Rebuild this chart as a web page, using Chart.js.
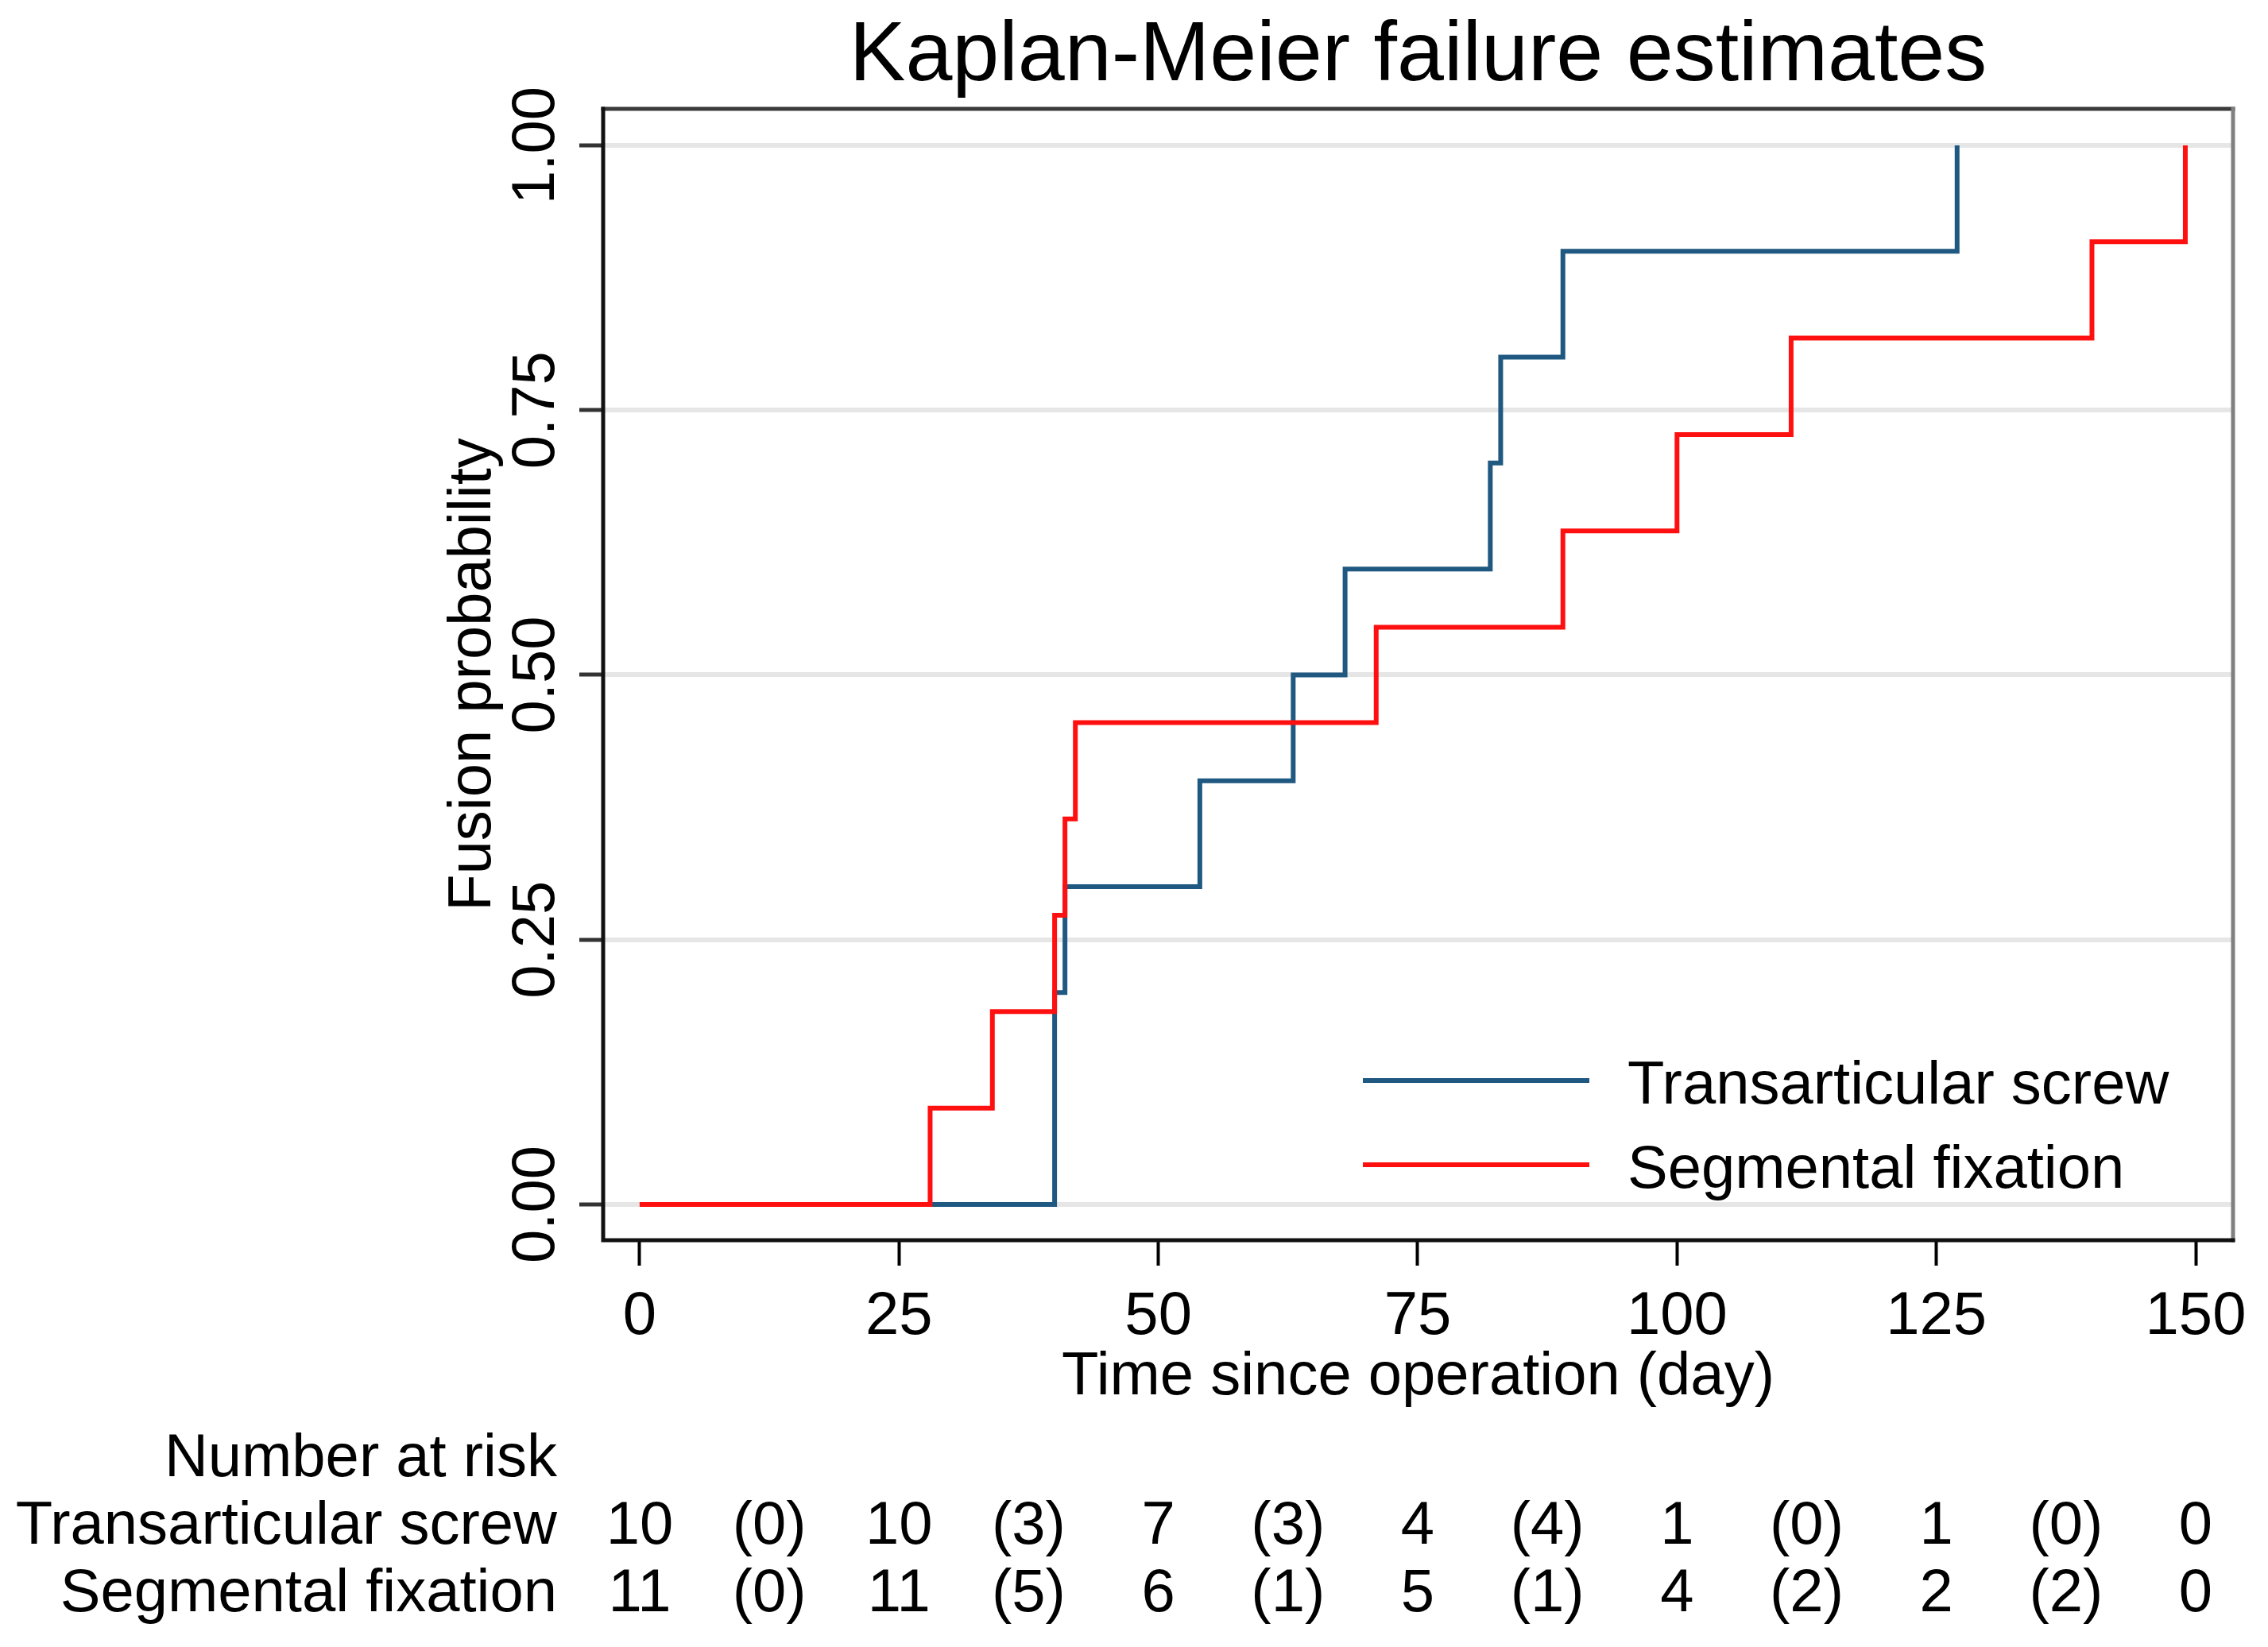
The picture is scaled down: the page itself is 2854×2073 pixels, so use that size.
<!DOCTYPE html>
<html>
<head>
<meta charset="utf-8">
<title>Kaplan-Meier failure estimates</title>
<script src="https://cdn.jsdelivr.net/npm/chart.js@4.4.1/dist/chart.umd.min.js"></script>
<style>
  html, body { margin: 0; padding: 0; background: #ffffff; }
  #km { display: block; }
</style>
</head>
<body>
<canvas id="km" width="2854" height="2073" style="width:2854px;height:2073px"></canvas>
<script>
const TITLE = "Kaplan-Meier failure estimates";
const X_TITLE = "Time since operation (day)";
const Y_TITLE = "Fusion probability";

const xTicks = [0, 25, 50, 75, 100, 125, 150];
const yTicks = [0, 0.25, 0.5, 0.75, 1];
const yTickLabels = ["0.00", "0.25", "0.50", "0.75", "1.00"];

const seriesLabels = ["Transarticular screw", "Segmental fixation"];

// step points: time of event, cumulative failure after it
const screwTimes = [0, 40, 41, 54, 63, 68, 82, 83, 89, 127];
const screwFailure = [0, 0.2, 0.3, 0.4, 0.5, 0.6, 0.7, 0.8, 0.9, 1.0];

const fixationTimes = [0, 28, 34, 40, 41, 42, 71, 89, 100, 111, 140, 149];
const fixationFailure = [0, 0.091, 0.182, 0.273, 0.364, 0.455, 0.545, 0.636, 0.727, 0.818, 0.909, 1.0];

// number at risk table
const riskTimes = [0, 25, 50, 75, 100, 125, 150];
const screwAtRisk = [10, 10, 7, 4, 1, 1, 0];
const screwEvents = [0, 3, 3, 4, 0, 0];
const fixationAtRisk = [11, 11, 6, 5, 4, 2, 0];
const fixationEvents = [0, 5, 1, 1, 2, 2];

const FONT = "'Liberation Sans', Arial, sans-serif";
const BLUE = "#1f5880";
const RED = "#ff1010";

function toPoints(times, values) {
  return times.map((t, i) => ({ x: t, y: values[i] }));
}

const textPlugin = {
  id: "stataText",
  afterDatasetsDraw(chart) {
    const ctx = chart.ctx;
    const area = chart.chartArea;
    const xs = chart.scales.x;
    const ys = chart.scales.y;
    ctx.save();

    // plot frame
    ctx.lineCap = "square";
    ctx.lineWidth = 5;
    ctx.strokeStyle = "#3a3a3a";
    ctx.beginPath();
    ctx.moveTo(area.left, area.top);
    ctx.lineTo(area.right, area.top);
    ctx.stroke();
    ctx.strokeStyle = "#808080";
    ctx.beginPath();
    ctx.moveTo(area.right, area.top);
    ctx.lineTo(area.right, area.bottom);
    ctx.stroke();
    ctx.strokeStyle = "#111111";
    ctx.beginPath();
    ctx.moveTo(area.right, area.bottom);
    ctx.lineTo(area.left, area.bottom);
    ctx.lineTo(area.left, area.top);
    ctx.stroke();

    ctx.fillStyle = "#000000";

    // title
    ctx.font = "106px " + FONT;
    ctx.textAlign = "center";
    ctx.textBaseline = "alphabetic";
    ctx.fillText(TITLE, (area.left + area.right) / 2, 101);

    // x tick labels + title
    ctx.font = "76px " + FONT;
    xTicks.forEach((v) => {
      ctx.fillText(String(v), xs.getPixelForValue(v), 1679);
    });
    ctx.fillText(X_TITLE, (area.left + area.right) / 2, 1755);

    // y tick labels, rotated
    yTicks.forEach((v, i) => {
      ctx.save();
      ctx.translate(697, ys.getPixelForValue(v));
      ctx.rotate(-Math.PI / 2);
      ctx.textAlign = "center";
      ctx.fillText(yTickLabels[i], 0, 0);
      ctx.restore();
    });
    ctx.save();
    ctx.translate(617, (area.top + area.bottom) / 2);
    ctx.rotate(-Math.PI / 2);
    ctx.textAlign = "center";
    ctx.fillText(Y_TITLE, 0, 0);
    ctx.restore();

    // legend inside plot
    const legendRows = [1389, 1495];
    chart.data.datasets.forEach((ds, i) => {
      const base = legendRows[i];
      ctx.strokeStyle = ds.borderColor;
      ctx.lineWidth = 6;
      ctx.lineCap = "butt";
      ctx.beginPath();
      ctx.moveTo(1715, base - 29);
      ctx.lineTo(2000, base - 29);
      ctx.stroke();
      ctx.textAlign = "left";
      ctx.fillText(ds.label, 2048, base);
    });

    // number at risk
    ctx.textAlign = "right";
    ctx.fillText("Number at risk", 701, 1858);
    const rows = [
      { label: seriesLabels[0], risk: screwAtRisk, events: screwEvents, base: 1943 },
      { label: seriesLabels[1], risk: fixationAtRisk, events: fixationEvents, base: 2028 }
    ];
    rows.forEach((row) => {
      ctx.textAlign = "right";
      ctx.fillText(row.label, 701, row.base);
      ctx.textAlign = "center";
      riskTimes.forEach((t, i) => {
        ctx.fillText(String(row.risk[i]), xs.getPixelForValue(t), row.base);
        if (i < row.events.length) {
          const mid = (t + riskTimes[i + 1]) / 2;
          ctx.fillText("(" + row.events[i] + ")", xs.getPixelForValue(mid), row.base);
        }
      });
    });

    ctx.restore();
  }
};

new Chart(document.getElementById("km"), {
  type: "line",
  data: {
    datasets: [
      {
        label: seriesLabels[0],
        data: toPoints(screwTimes, screwFailure),
        borderColor: BLUE,
        borderWidth: 6,
        stepped: "before",
        pointRadius: 0,
        fill: false,
        order: 1
      },
      {
        label: seriesLabels[1],
        data: toPoints(fixationTimes, fixationFailure),
        borderColor: RED,
        borderWidth: 6,
        stepped: "before",
        pointRadius: 0,
        fill: false,
        order: 0
      }
    ]
  },
  options: {
    responsive: false,
    devicePixelRatio: 1,
    animation: false,
    layout: {
      padding: { left: 759, right: 44, top: 137, bottom: 512 }
    },
    scales: {
      x: {
        type: "linear",
        min: -3.52,
        max: 153.6,
        afterBuildTicks(scale) {
          scale.ticks = xTicks.map((v) => ({ value: v }));
        },
        afterFit(scale) {
          scale.height = 0;
        },
        ticks: { display: false },
        border: { display: false },
        grid: {
          drawOnChartArea: false,
          drawTicks: true,
          tickLength: 32,
          tickWidth: 4,
          tickColor: "#000000"
        }
      },
      y: {
        type: "linear",
        min: -0.0338,
        max: 1.0345,
        afterBuildTicks(scale) {
          scale.ticks = yTicks.map((v) => ({ value: v }));
        },
        afterFit(scale) {
          scale.width = 0;
        },
        ticks: { display: false },
        border: { display: false },
        grid: {
          color: "#e6e6e6",
          lineWidth: 6,
          drawTicks: true,
          tickLength: 30,
          tickWidth: 5,
          tickColor: "#333333"
        }
      }
    },
    plugins: {
      legend: { display: false },
      tooltip: { enabled: false }
    }
  },
  plugins: [textPlugin]
});
</script>
</body>
</html>
